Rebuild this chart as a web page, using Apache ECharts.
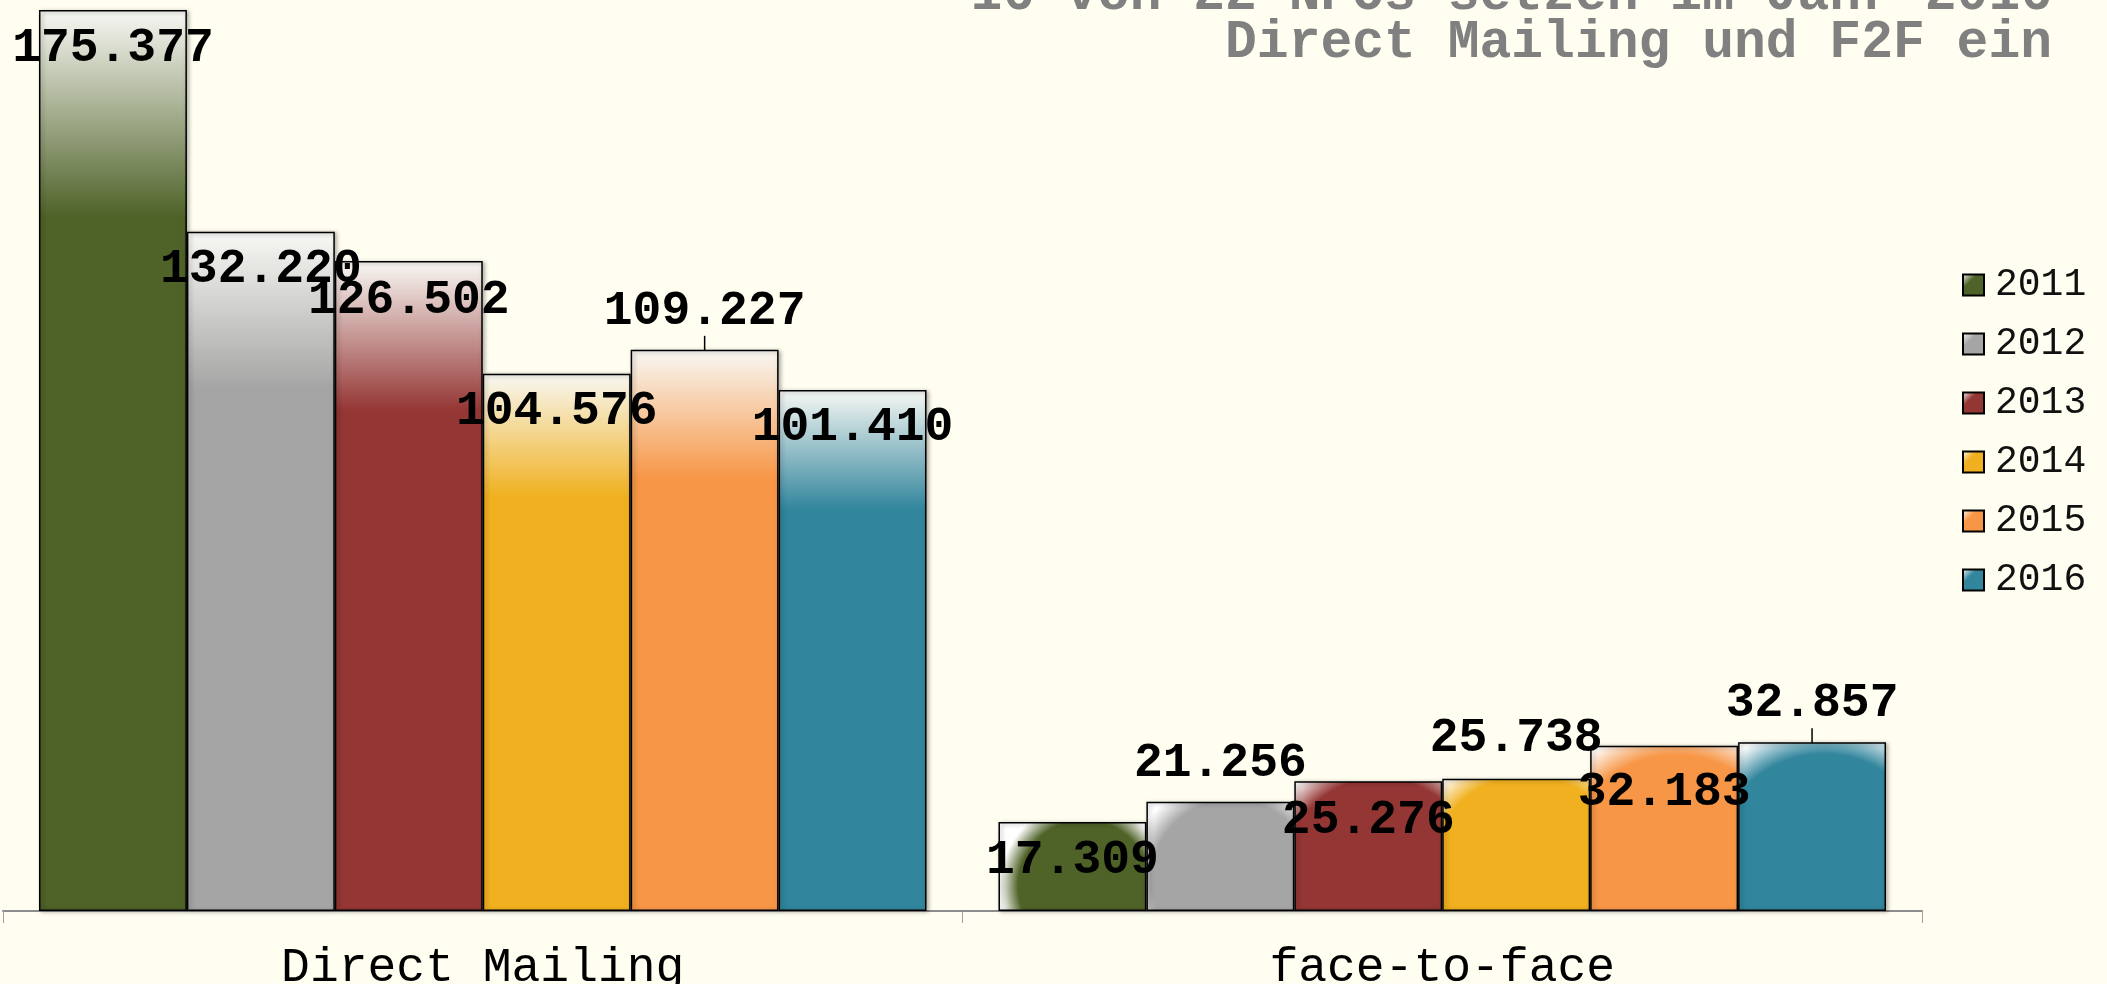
<!DOCTYPE html>
<html>
<head>
<meta charset="utf-8">
<title>Direct Mailing und F2F</title>
<script src="https://cdn.jsdelivr.net/npm/echarts@6/dist/echarts.min.js"></script>
<style>
  html, body { margin: 0; padding: 0; background: #fffef0; }
  #chart { width: 2107px; height: 984px; }
</style>
</head>
<body>
<div id="chart"></div>
<script>
const categories = ["Direct Mailing", "face-to-face"];
const years = ["2011", "2012", "2013", "2014", "2015", "2016"];
const values2011 = [175377, 17309];
const values2012 = [132220, 21256];
const values2013 = [126502, 25276];
const values2014 = [104576, 25738];
const values2015 = [109227, 32183];
const values2016 = [101410, 32857];
const seriesValues = [values2011, values2012, values2013, values2014, values2015, values2016];
const titleLines = ["16 von 22 NPOs setzen im Jahr 2016", "Direct Mailing und F2F ein"];

const colors = ["#4f6228", "#a5a5a5", "#943634", "#f0b01f", "#f79646", "#31859c"];
const FONT = "Liberation Mono";

// where each value label sits: [position, distance]
const labelPlace = [
  [["insideTop", 16], ["insideTop", 16]],
  [["insideTop", 15], ["top", 15]],
  [["insideTop", 17], ["insideTop", 17]],
  [["insideTop", 15], ["top", 17]],
  [["top", 2], ["insideTop", 24]],
  [["insideTop", 15], ["top", 2]]
];
// labels pulled up with a small leader line
const leader = { "4-0": true, "5-1": true };

function fmt(v) {
  return String(v).replace(/\B(?=(\d{3})+(?!\d))/g, ".");
}

function tallFill(c) {
  return new echarts.graphic.LinearGradient(0, 0, 0, 1, [
    { offset: 0, color: "#f8f8f4" },
    { offset: 0.23, color: c },
    { offset: 1, color: c }
  ]);
}
function shortFill(c) {
  return {
    type: "radial", x: 0.58, y: 0.72, r: 0.95,
    colorStops: [
      { offset: 0, color: c },
      { offset: 0.78, color: c },
      { offset: 1, color: "#ffffff" }
    ]
  };
}
function iconFill(c) {
  return new echarts.graphic.LinearGradient(0, 0, 1, 1, [
    { offset: 0, color: "#ffffff" },
    { offset: 0.35, color: c },
    { offset: 1, color: c }
  ]);
}

const titleStyle = {
  fontFamily: FONT,
  fontWeight: "bold",
  fontSize: 53,
  lineHeight: 48,
  color: "#808080"
};

const chart = echarts.init(document.getElementById("chart"));

chart.setOption({
  backgroundColor: "#fffef0",
  animation: false,
  title: titleLines.map(function (t, k) {
    return { text: t, right: 55, top: -28 + k * 48, padding: 0, textStyle: titleStyle };
  }),
  legend: {
    orient: "vertical",
    left: 1957,
    top: 260,
    itemWidth: 21,
    itemHeight: 21,
    itemGap: 19,
    icon: "rect",
    itemStyle: { borderColor: "#000", borderWidth: 2, shadowBlur: 0, shadowOffsetX: 0, shadowOffsetY: 0 },
    textStyle: {
      fontFamily: FONT,
      fontSize: 38,
      lineHeight: 40,
      color: "#111",
      padding: [0, 0, 0, 6]
    },
    data: years
  },
  grid: {
    left: 3,
    right: 185,
    top: 10,
    bottom: 73,
    containLabel: false,
    outerBoundsMode: "none"
  },
  xAxis: {
    type: "category",
    data: categories,
    axisLine: { show: true, lineStyle: { color: "#8c8c8c", width: 2 } },
    axisTick: { show: true, alignWithLabel: false, length: 12, lineStyle: { color: "#a0a0a0", width: 1 } },
    axisLabel: {
      fontFamily: FONT,
      fontSize: 48,
      color: "#000",
      margin: 33
    }
  },
  yAxis: {
    type: "value",
    min: 0,
    max: "dataMax",
    show: false,
    splitLine: { show: false }
  },
  series: years.map(function (y, i) {
    return {
      name: y,
      type: "bar",
      barGap: "0%",
      barCategoryGap: "7.5%",
      itemStyle: {
        color: iconFill(colors[i]),
        borderColor: "#000",
        borderWidth: 1.5,
        shadowColor: "rgba(0,0,0,0.3)",
        shadowBlur: 4,
        shadowOffsetX: 2,
        shadowOffsetY: 1
      },
      label: {
        show: true,
        fontFamily: FONT,
        fontWeight: "bold",
        fontSize: 48,
        lineHeight: 46,
        color: "#000",
        formatter: function (p) { return fmt(p.value); }
      },
      labelLayout: function (p) {
        return leader[i + "-" + p.dataIndex] ? { dy: -13 } : {};
      },
      data: seriesValues[i].map(function (v, j) {
        return {
          value: v,
          itemStyle: { color: j === 0 ? tallFill(colors[i]) : shortFill(colors[i]) },
          label: { position: labelPlace[i][j][0], distance: labelPlace[i][j][1] },
          labelLine: { show: !!leader[i + "-" + j], lineStyle: { color: "#000", width: 1.5 } }
        };
      })
    };
  })
});
</script>
</body>
</html>
